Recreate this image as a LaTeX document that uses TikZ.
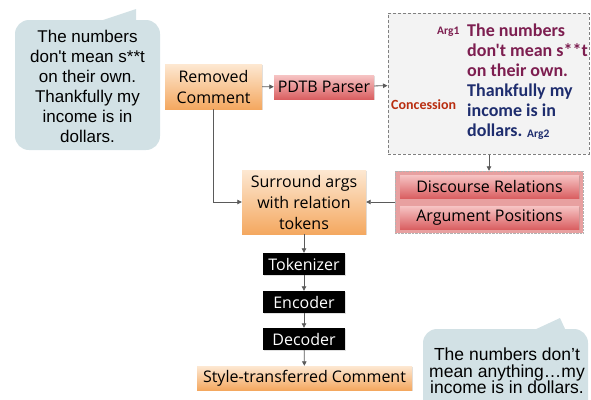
\documentclass[tikz,border=0pt]{standalone}
\usepackage{fontspec}
\setmainfont{Open Sans}
\newfontfamily\bubblefont[Ligatures=TeXOff]{Liberation Sans}
\newfontfamily\calfont[Ligatures=TeXOff]{Carlito}
\usetikzlibrary{arrows.meta,shadows}
\definecolor{orgtop}{RGB}{253,232,210}
\definecolor{orgbot}{RGB}{244,168,96}
\definecolor{redtop}{RGB}{246,196,196}
\definecolor{redbot}{RGB}{218,96,98}
\definecolor{bubble}{RGB}{210,225,229}
\definecolor{grpfill}{RGB}{232,160,160}
\definecolor{dashfill}{RGB}{243,243,243}
\definecolor{argone}{RGB}{125,30,80}
\definecolor{argtwo}{RGB}{30,45,110}
\definecolor{concol}{RGB}{185,45,15}
\definecolor{arrowcol}{RGB}{90,90,90}
\begin{document}
\begin{tikzpicture}[x=1pt,y=-1pt,
  box/.style={inner sep=0pt, align=center, font=\fontsize{16}{21}\selectfont,
    drop shadow={opacity=0.25,shadow xshift=0.8pt,shadow yshift=-0.8pt}},
  orangebox/.style={box, top color=orgtop, bottom color=orgbot},
  redbox/.style={box, top color=redtop, bottom color=redbot},
  blackbox/.style={box, fill=black, text=white, minimum width=82pt, minimum height=22pt},
  conn/.style={draw=arrowcol, line width=0.8pt, -{Triangle[length=4.5pt,width=4.5pt]}},
  bubbletext/.style={align=center, inner sep=0pt, text=black},
  argtext/.style={anchor=base west, inner sep=0pt, font=\calfont\bfseries\fontsize{18}{20}\selectfont},
  smalllab/.style={anchor=base west, inner sep=0pt, font=\calfont\bfseries\fontsize{11.5}{12}\selectfont},
]
\useasboundingbox (0,0) rectangle (591,399);

% left speech bubble
\fill[bubble, rounded corners=14pt] (15,20) rectangle (160,150);
\fill[bubble] (97,22) -- (136,9) -- (136,22) -- cycle;
\node[bubbletext, font=\bubblefont\fontsize{17}{20}\selectfont] (bubbleL) at (87.5,86)
  {The numbers\\don't mean s**t\\on their own.\\Thankfully my\\income is in\\dollars.};

% right speech bubble
\fill[bubble, rounded corners=14pt] (423,329) rectangle (588,420);
\fill[bubble] (532,331) -- (560,318) -- (566,331) -- cycle;
\node[bubbletext, font=\bubblefont\fontsize{17.5}{16.5}\selectfont] (bubbleR) at (507,371)
  {The numbers don’t\\mean anything…my\\income is in dollars.};

% pipeline boxes
\node[orangebox, minimum width=97pt, minimum height=45pt] (removed) at (213.5,86.5) {Removed\\Comment};
\node[redbox, minimum width=100pt, minimum height=24pt] (pdtb) at (324,87) {PDTB Parser};

% dashed parse box
\node[draw=gray, dash pattern=on 3pt off 2pt, line width=1pt, fill=dashfill,
  minimum width=201pt, minimum height=141pt, inner sep=0pt] (dbox) at (488.5,83.5) {};
\node[smalllab, text=argone] (arg1) at (437,34) {Arg1};
\node[argtext, text=argone] (l1) at (467,36) {The numbers};
\node[argtext, text=argone] (l2) at (467,56) {don't mean s**t};
\node[argtext, text=argone] (l3) at (467,76) {on their own.};
\node[argtext, text=argtwo] (l4) at (467,96) {Thankfully my};
\node[argtext, text=argtwo] (l5) at (467,116) {income is in};
\node[argtext, text=argtwo] (l6) at (467,136) {dollars.};
\node[smalllab, text=argtwo] (arg2) at (527,137) {Arg2};
\node[anchor=base west, inner sep=0pt, font=\calfont\bfseries\fontsize{14}{16}\selectfont, text=concol] (conc) at (391,109) {Concession};

% relation group
\node[fill=grpfill, draw=gray!60, densely dotted, line width=0.4pt,
  minimum width=188pt, minimum height=62pt, inner sep=0pt] (grp) at (489,202) {};
\node[redbox, minimum width=179pt, minimum height=23pt] (disc) at (489.5,186.5) {Discourse Relations};
\node[redbox, minimum width=179pt, minimum height=23pt] (argpos) at (489.5,217.5) {Argument Positions};

% surround box
\node[orangebox, minimum width=124pt, minimum height=64pt] (surround) at (304,202) {Surround args\\with relation\\tokens};

% black boxes
\node[blackbox] (tok) at (304,264) {Tokenizer};
\node[blackbox] (enc) at (304,302) {Encoder};
\node[blackbox] (dec) at (304,339) {Decoder};

% output
\node[orangebox, minimum width=215pt, minimum height=24pt] (style) at (304.5,378) {Style-transferred Comment};

% connectors
\draw[conn] (removed) -- (pdtb);
\draw[conn] (pdtb) -- (dbox);
\draw[conn] (grp.north |- dbox.south) -- (grp.north);
\draw[conn] (removed.south) |- (surround.west);
\draw[conn] (grp.west) -- (surround.east);
\draw[conn] (surround) -- (tok);
\draw[conn] (tok) -- (enc);
\draw[conn] (enc) -- (dec);
\draw[conn] (dec) -- (style);
\end{tikzpicture}
\end{document}
